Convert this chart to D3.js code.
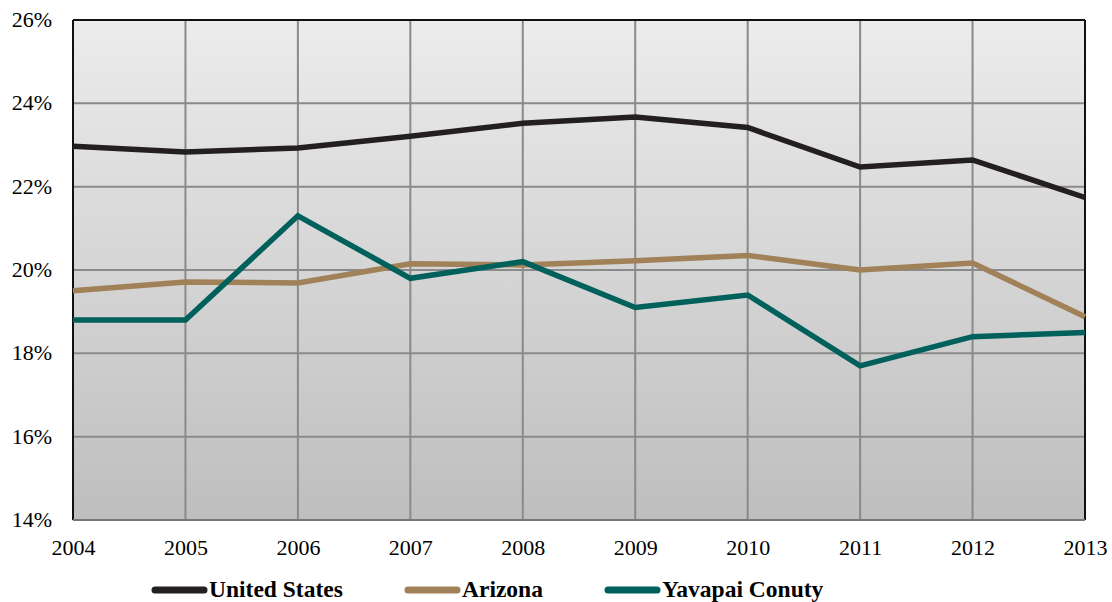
<!DOCTYPE html>
<html><head><meta charset="utf-8">
<script src="https://cdn.jsdelivr.net/npm/d3@7"></script>
<style>body{margin:0;background:#fff}svg{display:block}
text{font-family:"Liberation Serif","Times New Roman",serif !important;}
</style>
</head><body>
<svg id="c" width="1112" height="602"></svg>
<script>
const years = [2004,2005,2006,2007,2008,2009,2010,2011,2012,2013];
const unitedStates = [22.97,22.83,22.93,23.21,23.52,23.67,23.42,22.47,22.64,21.74];
const arizona = [19.50,19.71,19.69,20.15,20.12,20.22,20.35,20.00,20.17,18.88];
const yavapai = [18.80,18.80,21.30,19.80,20.20,19.10,19.40,17.70,18.40,18.50];
const yTicks = [14,16,18,20,22,24,26];
const seriesNames = ["United States","Arizona","Yavapai Conuty"];
const seriesColors = ["#231f20","#a08158","#00615c"];

const svg = d3.select("#c");
const L=73,R=1085,T=20,B=520;
const x = d3.scaleLinear().domain([2004,2013]).range([L,R]);
const y = d3.scaleLinear().domain([14,26]).range([B,T]);

const defs = svg.append("defs");
const g = defs.append("linearGradient").attr("id","bg").attr("x1",0).attr("y1",0).attr("x2",0).attr("y2",1);
g.append("stop").attr("offset","0%").attr("stop-color","#ececec");
g.append("stop").attr("offset","100%").attr("stop-color","#bebebe");
svg.append("rect").attr("x",L).attr("y",T).attr("width",R-L).attr("height",B-T).attr("fill","url(#bg)");

// grid
svg.append("g").selectAll("line").data(yTicks).join("line")
  .attr("x1",L).attr("x2",R).attr("y1",d=>y(d)).attr("y2",d=>y(d))
  .attr("stroke","#8a8a8a").attr("stroke-width",2);
svg.append("g").selectAll("line").data(years).join("line")
  .attr("x1",d=>x(d)).attr("x2",d=>x(d)).attr("y1",T).attr("y2",B)
  .attr("stroke","#8a8a8a").attr("stroke-width",2);
// borders
svg.append("line").attr("x1",L).attr("x2",R).attr("y1",T).attr("y2",T).attr("stroke","#111").attr("stroke-width",2);
svg.append("line").attr("x1",L).attr("x2",L).attr("y1",T).attr("y2",B).attr("stroke","#111").attr("stroke-width",2);
svg.append("line").attr("x1",R).attr("x2",R).attr("y1",T).attr("y2",B).attr("stroke","#111").attr("stroke-width",2);
svg.append("line").attr("x1",L).attr("x2",R).attr("y1",B).attr("y2",B).attr("stroke","#777").attr("stroke-width",2);

// axes labels
const yAxis = d3.axisLeft(y).tickValues(yTicks).tickFormat(d=>d+"%").tickSize(0).tickPadding(21);
const ya = svg.append("g").attr("transform",`translate(${L},0)`).call(yAxis)
  .attr("font-family","Liberation Serif").attr("font-size",22);
ya.select(".domain").remove();
ya.selectAll("text").attr("fill","#000").attr("dy","0.3em");
const xAxis = d3.axisBottom(x).tickValues(years).tickFormat(d3.format("d")).tickSize(0).tickPadding(19);
const xa = svg.append("g").attr("transform",`translate(0,${B})`).call(xAxis)
  .attr("font-family","Liberation Serif").attr("font-size",22);
xa.select(".domain").remove();
xa.selectAll("text").attr("fill","#000");

// lines
const data = [unitedStates, arizona, yavapai];
const line = d3.line().x((d,i)=>x(years[i])).y(d=>y(d));
svg.append("g").selectAll("path").data(data).join("path")
  .attr("d",line).attr("fill","none").attr("stroke",(d,i)=>seriesColors[i])
  .attr("stroke-width",5.5).attr("stroke-linejoin","miter");

// legend
const legX = [152,405,605];
const lg = svg.append("g").selectAll("g").data(seriesNames).join("g")
  .attr("transform",(d,i)=>`translate(${legX[i]},590)`);
lg.append("line").attr("x1",3).attr("x2",52).attr("y1",0).attr("y2",0)
  .attr("stroke",(d,i)=>seriesColors[i]).attr("stroke-width",7).attr("stroke-linecap","round");
lg.append("text").attr("x",57).attr("y",7).text(d=>d)
  .attr("font-family","Liberation Serif").attr("font-weight","bold").attr("font-size",23.5).attr("fill","#000");
</script>
</body></html>
